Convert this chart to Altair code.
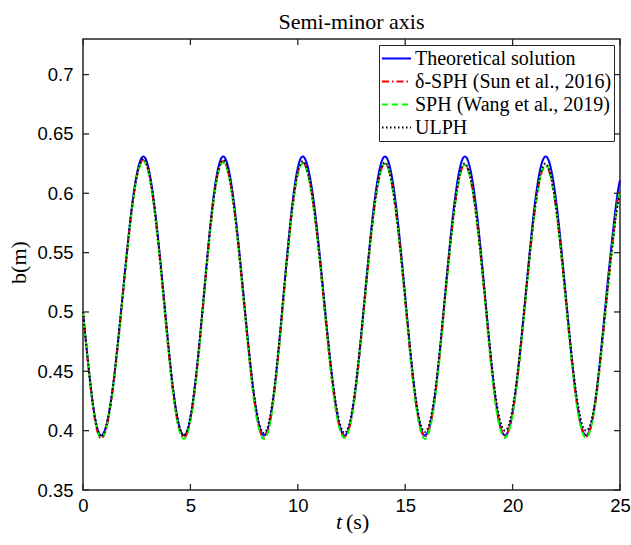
import altair as alt
import pandas as pd

# ---- data ----
TIME = [0.00, 0.45,
        0.87, 1.34, 1.84, 2.33, 2.81, 3.28, 3.76, 4.23,
        4.70, 5.16, 5.62, 6.07, 6.53, 7.00, 7.48, 7.96,
        8.43, 8.88, 9.33, 9.78, 10.23, 10.72, 11.21, 11.70,
        12.18, 12.65, 13.12, 13.59, 14.06, 14.53, 15.00, 15.46,
        15.92, 16.39, 16.85, 17.32, 17.78, 18.25, 18.72, 19.18,
        19.65, 20.12, 20.60, 21.07, 21.54, 22.01, 22.48, 22.95,
        23.42, 23.89, 24.36, 24.80, 25.00]

THEORY = [0.500, 0.424,
          0.396, 0.430, 0.513, 0.596, 0.631, 0.596, 0.513, 0.430,
          0.396, 0.430, 0.513, 0.596, 0.631, 0.596, 0.513, 0.430,
          0.396, 0.430, 0.513, 0.596, 0.631, 0.596, 0.513, 0.430,
          0.396, 0.430, 0.513, 0.596, 0.631, 0.596, 0.513, 0.430,
          0.396, 0.430, 0.513, 0.596, 0.631, 0.596, 0.513, 0.430,
          0.396, 0.430, 0.513, 0.596, 0.631, 0.596, 0.513, 0.430,
          0.396, 0.430, 0.513, 0.588, 0.611]

DSPH = [0.500, 0.422,
        0.3935, 0.428, 0.511, 0.594, 0.628, 0.593, 0.510, 0.427,
        0.394, 0.428, 0.510, 0.593, 0.627, 0.592, 0.510, 0.427,
        0.394, 0.428, 0.510, 0.592, 0.626, 0.591, 0.509, 0.427,
        0.395, 0.428, 0.510, 0.591, 0.625, 0.590, 0.509, 0.428,
        0.395, 0.429, 0.510, 0.591, 0.624, 0.589, 0.509, 0.428,
        0.396, 0.429, 0.510, 0.590, 0.623, 0.589, 0.509, 0.428,
        0.395, 0.428, 0.508, 0.582, 0.603]

SPH = [0.500, 0.423,
       0.394, 0.428, 0.511, 0.593, 0.627, 0.592, 0.509, 0.426,
       0.393, 0.427, 0.510, 0.592, 0.626, 0.591, 0.509, 0.426,
       0.393, 0.427, 0.510, 0.591, 0.625, 0.590, 0.509, 0.426,
       0.394, 0.428, 0.510, 0.591, 0.625, 0.590, 0.509, 0.427,
       0.393, 0.427, 0.509, 0.590, 0.624, 0.589, 0.508, 0.426,
       0.394, 0.428, 0.509, 0.590, 0.624, 0.589, 0.508, 0.427,
       0.394, 0.428, 0.507, 0.580, 0.600]

ULPH = [0.500, 0.424,
        0.395, 0.430, 0.513, 0.595, 0.629, 0.594, 0.512, 0.430,
        0.396, 0.431, 0.513, 0.594, 0.628, 0.593, 0.512, 0.431,
        0.398, 0.432, 0.513, 0.593, 0.627, 0.592, 0.512, 0.432,
        0.398, 0.432, 0.513, 0.593, 0.626, 0.591, 0.512, 0.432,
        0.399, 0.433, 0.513, 0.592, 0.625, 0.590, 0.512, 0.433,
        0.400, 0.433, 0.513, 0.592, 0.625, 0.590, 0.512, 0.433,
        0.400, 0.431, 0.508, 0.579, 0.598]

SERIES = ["Theoretical solution", "δ-SPH (Sun et al., 2016)",
          "SPH (Wang et al., 2019)", "ULPH"]
COLORS = ["#0000ff", "#ff0000", "#00ff00", "#000000"]
DASHES = [[1, 0], [7, 3, 1.5, 3], [6, 4], [1.5, 2.5]]
X_TICKS = [0, 5, 10, 15, 20, 25]
Y_TICKS = [0.35, 0.4, 0.45, 0.5, 0.55, 0.6, 0.65, 0.7]
TITLE = "Semi-minor axis"

rows = []
for name, vals in zip(SERIES, [THEORY, DSPH, SPH, ULPH]):
    for i, (t, b) in enumerate(zip(TIME, vals)):
        rows.append({"series": name, "t": t, "b": b, "k": i})
df = pd.DataFrame(rows)

W, H = 537, 451
FRAME = "#262626"

x_scale = alt.Scale(domain=[0, 25], nice=False, zero=False)
y_scale = alt.Scale(domain=[0.35, 0.73], nice=False, zero=False)

x_axis = alt.Axis(values=X_TICKS, title=None, ticks=False, domain=False, grid=False,
                  format="~g", labelFont="Liberation Sans", labelFontSize=18.5,
                  labelColor="#000000", labelPadding=6, labelFlush=False)
y_axis = alt.Axis(values=Y_TICKS, title="b(m)", ticks=False, domain=False, grid=False,
                  format="~g", labelFont="Liberation Sans", labelFontSize=18.5,
                  labelColor="#000000", labelPadding=10, labelFlush=False,
                  titleFont="Liberation Serif", titleFontSize=22, titleFontWeight="normal",
                  titleColor="#000000", titleX=-65, titleY=223, titleBaseline="middle")

legend = alt.Legend(title=None, orient="top-right")

lines = alt.Chart(df).mark_line(strokeWidth=2, interpolate="natural").encode(
    x=alt.X("t:Q", scale=x_scale, axis=x_axis),
    y=alt.Y("b:Q", scale=y_scale, axis=y_axis),
    color=alt.Color("series:N", scale=alt.Scale(domain=SERIES, range=COLORS), legend=legend),
    strokeDash=alt.StrokeDash("series:N", scale=alt.Scale(domain=SERIES, range=DASHES), legend=legend),
    order=alt.Order("k:Q"),
)

xt = pd.DataFrame({"t": X_TICKS})
yt = pd.DataFrame({"b": Y_TICKS})
TL = 6
tick_bottom = alt.Chart(xt).mark_rule(color=FRAME, strokeWidth=1.3).encode(
    x=alt.X("t:Q", scale=x_scale, axis=x_axis), y=alt.value(H), y2=alt.value(H - TL))
tick_top = alt.Chart(xt).mark_rule(color=FRAME, strokeWidth=1.3).encode(
    x=alt.X("t:Q", scale=x_scale, axis=x_axis), y=alt.value(0), y2=alt.value(TL))
tick_left = alt.Chart(yt).mark_rule(color=FRAME, strokeWidth=1.3).encode(
    y=alt.Y("b:Q", scale=y_scale, axis=y_axis), x=alt.value(0), x2=alt.value(TL))
tick_right = alt.Chart(yt).mark_rule(color=FRAME, strokeWidth=1.3).encode(
    y=alt.Y("b:Q", scale=y_scale, axis=y_axis), x=alt.value(W), x2=alt.value(W - TL))

one = alt.Data(values=[{"a": 1}])
xt_t = alt.Chart(one).mark_text(text="t", font="Liberation Serif", fontSize=22,
                                fontStyle="italic", align="right", baseline="alphabetic",
                                color="#000000").encode(x=alt.value(259), y=alt.value(490))
xt_s = alt.Chart(one).mark_text(text="(s)", font="Liberation Serif", fontSize=22,
                                align="left", baseline="alphabetic",
                                color="#000000").encode(x=alt.value(263), y=alt.value(490))
title_txt = alt.Chart(one).mark_text(text=TITLE, font="Liberation Serif", fontSize=22,
                                     align="center", baseline="alphabetic",
                                     color="#000000").encode(x=alt.value(W / 2), y=alt.value(-10))

chart = alt.layer(lines, tick_bottom, tick_top, tick_left, tick_right,
                  xt_t, xt_s, title_txt).properties(
    width=W, height=H,
    padding={"left": 83, "top": 39, "right": 11, "bottom": 55},
    autosize=alt.AutoSizeParams(type="none"),
    background="white",
).configure_view(
    stroke=FRAME, strokeWidth=1.5
).configure_legend(
    fillColor="white", strokeColor=FRAME, strokeWidth=1, padding=2, offset=6, cornerRadius=0,
    labelFont="Liberation Serif", labelFontSize=20, labelColor="#000000",
    labelLimit=400, labelOffset=3, rowPadding=0, clipHeight=23,
    symbolType="stroke", symbolSize=841, symbolStrokeWidth=2,
)

chart.save("out.html", embed_options={"renderer": "svg", "actions": False})
